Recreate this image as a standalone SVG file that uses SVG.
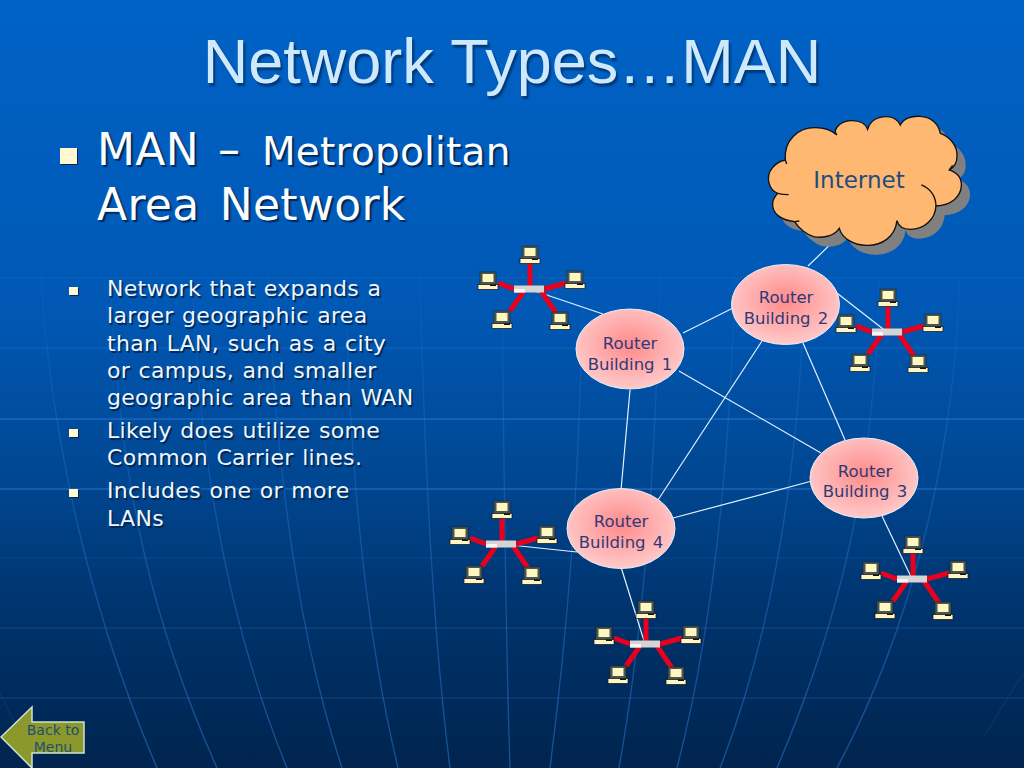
<svg xmlns="http://www.w3.org/2000/svg" width="1024" height="768" viewBox="0 0 1024 768">
<style>
.t{font-family:"DejaVu Sans","Liberation Sans",sans-serif;fill:#eef7ff}
.title{font-family:"Liberation Sans",Arial,sans-serif;font-size:63px;fill:#cfe9fc;text-shadow:2px 3px 2px #003a78}
.h{font-size:44px;fill:#fbfdff;text-shadow:2px 2px 1px #00295a;letter-spacing:.3px;word-spacing:6px}
.b{font-size:22px;letter-spacing:.3px;word-spacing:1.200px;text-shadow:1.500px 1.500px 1px #00244f}
.r{font-family:"DejaVu Sans",sans-serif;font-size:16.500px;fill:#2e3a78;text-anchor:middle;word-spacing:2px}
.g{fill:none;stroke:url(#fade);stroke-width:1.300}
.hl{fill:none;stroke:#3a8ae8;stroke-width:1.300}
.c{stroke:#e2f1ff;stroke-width:1.200;fill:none}
.s{stroke:#e8001c;stroke-width:5;fill:none}
.e{fill:url(#pink);stroke:#e6eef8;stroke-width:1}
.bu{fill:#fff8d0;filter:drop-shadow(1.500px 1.500px .5px #00244f)}
</style>
<defs>
<linearGradient id="bg" x1="0" y1="0" x2="0" y2="1">
<stop offset="0" stop-color="#0062c6"/><stop offset=".4" stop-color="#0158b4"/><stop offset=".62" stop-color="#004792"/><stop offset=".8" stop-color="#00336c"/><stop offset="1" stop-color="#00244e"/>
</linearGradient>
<linearGradient id="fade" gradientUnits="userSpaceOnUse" x1="0" y1="260" x2="0" y2="768">
<stop offset="0" stop-color="#2f80e0" stop-opacity=".04"/><stop offset=".35" stop-color="#2f80e0" stop-opacity=".3"/><stop offset="1" stop-color="#2f80e0" stop-opacity=".5"/>
</linearGradient>
<radialGradient id="pink" cy=".45" r=".55"><stop offset="0" stop-color="#ff8a8a"/><stop offset=".55" stop-color="#ffadad"/><stop offset="1" stop-color="#ffcaca"/></radialGradient>
<path id="cloud" d="M820 210C815 150 860 112 910 113C935 113 960 122 975 135C960 118 985 92 1020 92C1045 92 1062 103 1067 118C1075 90 1100 78 1125 80C1145 80 1160 92 1165 105C1175 85 1200 77 1225 79C1255 80 1280 100 1285 130C1315 140 1338 170 1335 200C1335 220 1325 232 1312 240C1340 250 1350 270 1348 290C1345 320 1320 345 1272 348C1270 385 1240 418 1195 418C1175 418 1160 410 1155 392C1150 440 1110 467 1065 466C1025 466 990 445 982 415C965 440 930 445 905 440C885 435 860 415 848 395C805 390 780 370 782 340C782 330 790 318 797 310C770 300 760 260 780 235C790 222 805 213 820 210Z"/>
<g id="pc">
<rect x="-8" y="-9" width="16" height="13" fill="#4a5650" stroke="#1c1c1c" stroke-width=".5"/>
<rect x="-5.500" y="-7" width="11" height="8" fill="#fff7c0"/>
<rect x="-10" y="3.500" width="20" height="5" fill="#fff6c4" stroke="#111" stroke-width=".7"/>
<rect x="2" y="3.500" width="6" height="1.500" fill="#111"/>
</g>
<g id="lan">
<path class="s" d="M1 -3V-26M-15 0L-31 -6M15 0L37 -6M-5 2L-19 22M12 2L27 24"/>
<rect x="-15" y="-3.500" width="30" height="7" fill="#d4d4d4"/>
<rect x="-15" y="0" width="11" height="3.500" fill="#f6f6f6"/>
<use href="#pc" x="1" y="-34"/><use href="#pc" x="-41" y="-8"/><use href="#pc" x="46" y="-9"/><use href="#pc" x="-27" y="31"/><use href="#pc" x="31" y="32"/>
</g>
</defs>
<rect id="background" width="1024" height="768" fill="url(#bg)"/>
<g id="globe">
<path class="hl" opacity=".12" d="M0 278H1024"/>
<path class="hl" opacity=".22" d="M0 348H1024"/>
<path class="hl" opacity=".45" d="M0 419H1024M0 489H1024"/>
<path class="hl" opacity=".1" d="M0 558H1024"/>
<path class="hl" opacity=".18" d="M0 628H1024M0 698H1024"/>
<path class="g" d="M40 260C48 420 85 600 157 768M110 270C118 500 160 640 217 768M192 270C198 480 235 640 287 768M268 270C275 480 300 640 342 768M345 270C350 500 370 650 398 768M420 270C425 500 435 650 450 768M502 270C504 500 506 650 510 768M583 270C580 500 565 650 550 768M660 270C655 500 640 650 619 768M735 270C730 480 710 640 677 768M805 270C800 480 770 640 720 768M880 270C875 480 840 620 777 768M960 270C955 470 905 640 837 768"/>
<path class="hl" opacity=".12" d="M1024 673C1005 700 995 720 985 735M0 693C8 710 15 725 25 740"/>
</g>
<text id="title" class="title" x="512" y="83" text-anchor="middle">Network Types…MAN</text>
<g id="text-left">
<rect class="bu" x="60" y="148" width="17" height="16"/>
<text class="t h" x="97" y="165">MAN<tspan x="218">–</tspan><tspan x="262" font-size="39" style="letter-spacing:.2px">Metropolitan</tspan></text>
<text class="t h" x="97" y="220">Area Network</text>
<rect class="bu" x="69" y="287" width="9" height="8"/>
<rect class="bu" x="69" y="429" width="9" height="8"/>
<rect class="bu" x="69" y="489" width="9" height="8"/>
<text class="t b" x="107" y="296">Network that expands a</text>
<text class="t b" x="107" y="323">larger geographic area</text>
<text class="t b" x="107" y="351">than LAN, such as a city</text>
<text class="t b" x="107" y="378">or campus, and smaller</text>
<text class="t b" x="107" y="405">geographic area than WAN</text>
<text class="t b" x="107" y="438">Likely does utilize some</text>
<text class="t b" x="107" y="465">Common Carrier lines.</text>
<text class="t b" x="107" y="498">Includes one or more</text>
<text class="t b" x="107" y="526">LANs</text>
</g>
<g id="connectors">
<path class="c" d="M838 237L808 266M529 289L603 314M683 333L733 308M833 290L887 332M679 371L821 453M630 390L621 490M762 341L658 500M803 343L845 440M673 518L812 481M882 516L912 579M501 544L577 552M621 567L645 644"/>
</g>
<g id="lan1"><use href="#lan" x="529" y="289"/></g>
<g id="lan2"><use href="#lan" x="887" y="332"/></g>
<g id="lan3"><use href="#lan" x="912" y="579"/></g>
<g id="lan4"><use href="#lan" x="501" y="544"/></g>
<g id="lan5"><use href="#lan" x="645" y="644"/></g>
<g id="internet">
<g transform="translate(512 90) scale(.3333)">
<use href="#cloud" x="26" y="28" fill="#808080"/>
<use href="#cloud" fill="#ffb872" stroke="#111" stroke-width="4"/>
<path fill="none" stroke="#111" stroke-width="4" d="M1228 285C1255 295 1272 320 1272 348M848 395L862 393M797 310C808 313 820 314 830 314M820 210L824 222M1312 240L1322 226"/>
</g>
<text x="859" y="188" font-family="DejaVu Sans,sans-serif" font-size="23" fill="#1f4c80" text-anchor="middle">Internet</text>
</g>
<g id="router1"><ellipse class="e" cx="630" cy="349" rx="54" ry="40"/><text class="r" x="630" y="349">Router</text><text class="r" x="630" y="370">Building 1</text></g>
<g id="router2"><ellipse class="e" cx="785.500" cy="304.500" rx="54" ry="40"/><text class="r" x="786" y="303">Router</text><text class="r" x="786" y="324">Building 2</text></g>
<g id="router3"><ellipse class="e" cx="864" cy="478" rx="54" ry="40"/><text class="r" x="865" y="477">Router</text><text class="r" x="865" y="497">Building 3</text></g>
<g id="router4"><ellipse class="e" cx="621" cy="528.500" rx="54" ry="40"/><text class="r" x="621" y="527">Router</text><text class="r" x="621" y="548">Building 4</text></g>
<g id="back">
<path d="M1 737L32 707V722H84V753H32V768Z" fill="#8a982c" stroke="#cfe0d0" stroke-width="1.500"/>
<text x="53" y="735" font-family="DejaVu Sans,sans-serif" font-size="14" fill="#1d4f72" text-anchor="middle">Back to</text>
<text x="53" y="752" font-family="DejaVu Sans,sans-serif" font-size="14" fill="#1d4f72" text-anchor="middle">Menu</text>
</g>
</svg>
